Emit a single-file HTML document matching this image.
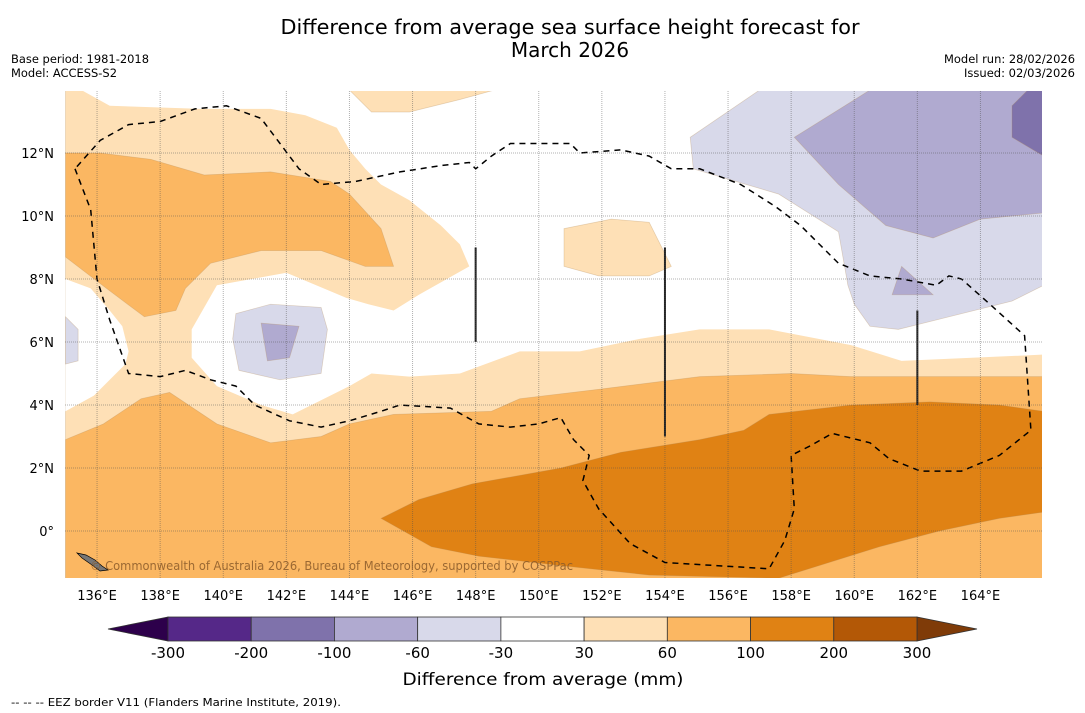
<!DOCTYPE html>
<html><head><meta charset="utf-8"><style>
body{margin:0;background:#fff;}
svg{display:block;font-family:"DejaVu Sans","Liberation Sans",sans-serif;}
</style></head><body>
<svg id="c" width="1085" height="713" viewBox="0 0 1085 713" xmlns="http://www.w3.org/2000/svg">
<text x="570" y="34" font-size="20" text-anchor="middle" textLength="579" lengthAdjust="spacingAndGlyphs">Difference from average sea surface height forecast for</text>
<text x="570" y="57" font-size="20" text-anchor="middle">March 2026</text>
<text x="11" y="63" font-size="11.5" textLength="138" lengthAdjust="spacingAndGlyphs">Base period: 1981-2018</text>
<text x="11" y="77" font-size="11.5" textLength="106" lengthAdjust="spacingAndGlyphs">Model: ACCESS-S2</text>
<text x="1075" y="63" font-size="11.5" text-anchor="end" textLength="131" lengthAdjust="spacingAndGlyphs">Model run: 28/02/2026</text>
<text x="1075" y="77" font-size="11.5" text-anchor="end" textLength="111" lengthAdjust="spacingAndGlyphs">Issued: 02/03/2026</text>
<defs><clipPath id="mapclip"><rect x="65" y="91" width="977" height="487"/></clipPath></defs>
<g id="map" clip-path="url(#mapclip)"></g>
<g id="grid"></g>
<g id="axes"></g>
<text x="90" y="570" font-size="12" fill="#8a5a2a" fill-opacity="0.85" textLength="483" lengthAdjust="spacingAndGlyphs">© Commonwealth of Australia 2026, Bureau of Meteorology, supported by COSPPac</text>
<g id="cbar"></g>
<text x="543" y="685" font-size="17" text-anchor="middle" textLength="281" lengthAdjust="spacingAndGlyphs">Difference from average (mm)</text>
<text x="11" y="706" font-size="11" textLength="330" lengthAdjust="spacingAndGlyphs">--  --  -- EEZ border V11 (Flanders Marine Institute, 2019).</text>
</svg>
<script>
const NS="http://www.w3.org/2000/svg";
// colour levels
const levels=[-300,-200,-100,-60,-30,30,60,100,200,300];
const levelColors=["#552888","#7f72ab","#b0aad0","#d8d9ea","#ffffff","#fee0b6","#fbb762","#e08214","#b35806"];
const extLow="#2d004b", extHigh="#7f3b08";
// map axis ticks
const lonTicks=[136,138,140,142,144,146,148,150,152,154,156,158,160,162,164];
const latTicks=[0,2,4,6,8,10,12];
// contour regions (lon, lat)
const baseLightOrange=[[135,14],[166,14],[166,-1.5],[135,-1.5]];
const whiteMain=[[135.5,14],[166,14],[166,5.6],[161.5,5.4],[159.9,5.9],[157.3,6.4],[155.1,6.4],[153.2,6.1],[151.3,5.7],[149.4,5.7],[147.5,5.0],[145.9,4.9],[144.7,5.0],[144.0,4.6],[142.2,3.7],[141.2,4.0],[139.8,4.6],[139.0,5.5],[139.0,6.4],[139.8,7.8],[140.9,8.0],[142.0,8.2],[143.9,7.4],[144.6,7.2],[145.4,7.0],[146.2,7.5],[147.8,8.4],[147.5,9.1],[146.9,9.7],[145.9,10.5],[145.0,11.0],[144.5,11.5],[144.0,12.1],[143.6,12.8],[142.6,13.2],[141.5,13.4],[139.3,13.4],[136.4,13.5]];
const whiteLeft=[[135,8.0],[135.8,7.7],[136.4,7.0],[136.8,6.5],[137.0,5.7],[136.9,5.3],[136.6,5.0],[135.9,4.3],[135,3.8]];
const topStrip=[[144.0,14],[148.6,14],[147.5,13.7],[145.9,13.3],[144.7,13.3]];
const islandLO=[[150.8,9.6],[152.3,9.9],[153.5,9.8],[154.2,8.4],[153.5,8.1],[151.9,8.1],[150.8,8.4]];
const orangeTL=[[135,12.0],[136.1,12.0],[137.7,11.8],[139.4,11.3],[141.5,11.4],[143.4,11.1],[144.0,10.7],[145.0,9.6],[145.4,8.4],[144.5,8.4],[143.1,8.9],[141.2,8.9],[139.6,8.5],[138.8,7.7],[138.5,7.0],[137.5,6.8],[136.3,7.7],[135,8.7]];
const orangeBottom=[[135,2.9],[136.2,3.4],[137.4,4.2],[138.3,4.4],[139.8,3.4],[141.5,2.8],[143.1,3.0],[144.0,3.4],[145.4,3.7],[148.5,3.8],[149.4,4.2],[151.9,4.5],[155.1,4.9],[158.0,5.0],[159.9,4.9],[163.0,4.9],[166,4.9],[166,-1.5],[135,-1.5]];
const darkOrange=[[145.0,0.4],[146.2,1.0],[147.9,1.5],[150.7,2.0],[152.6,2.5],[155.1,2.9],[156.5,3.2],[157.3,3.7],[159.9,4.0],[162.4,4.1],[164.6,4.0],[166,3.8],[166,0.6],[164.6,0.4],[162.7,0.0],[160.8,-0.5],[157.6,-1.5],[153.5,-1.4],[150.7,-1.1],[148.1,-0.8],[146.6,-0.5]];
const lightPurpleRight=[[154.8,12.5],[157.0,14],[166,14],[166,7.8],[165.0,7.3],[163.0,6.8],[161.4,6.4],[160.5,6.5],[160.0,7.2],[159.8,7.8],[159.5,9.5],[157.6,10.7],[154.9,11.5]];
const lightPurpleLeft=[[135,6.8],[135.4,6.4],[135.4,5.4],[135,5.3]];
const lightPurpleCenter=[[140.4,6.9],[141.5,7.2],[143.1,7.1],[143.3,6.4],[143.1,5.0],[141.8,4.8],[140.5,5.1],[140.3,6.1]];
const midPurpleCenter=[[141.2,6.6],[142.4,6.5],[142.1,5.5],[141.4,5.4]];
const midPurpleRight=[[158.1,12.5],[159.7,13.5],[160.5,14],[166,14],[166,10.1],[164.0,9.9],[162.5,9.3],[161.0,9.7],[159.5,11.0]];
const midPurpleSmall=[[161.5,8.4],[162.5,7.5],[161.2,7.5]];
const darkPurple=[[165.0,13.5],[165.5,14],[166,14],[166,11.9],[165.0,12.5]];
const eezLine=[[135.3,11.5],[135.8,10.2],[136.0,8.0],[136.4,6.7],[137.0,5.0],[138.0,4.9],[138.8,5.1],[139.6,4.8],[140.4,4.6],[141.0,4.0],[142.1,3.5],[143.1,3.3],[144.0,3.5],[145.0,3.8],[145.6,4.0],[147.2,3.9],[148.1,3.4],[149.1,3.3],[150.0,3.4],[150.7,3.6],[151.1,2.9],[151.6,2.4],[151.4,1.6],[151.9,0.7],[152.9,-0.4],[154.0,-1.0],[157.3,-1.2],[157.8,-0.3],[158.1,0.7],[158.0,2.4],[158.6,2.7],[159.3,3.1],[160.5,2.8],[161.1,2.3],[162.1,1.9],[163.4,1.9],[164.6,2.4],[165.6,3.2],[165.4,6.2],[164.3,7.2],[163.4,8.0],[163.0,8.1],[162.6,7.8],[161.5,8.0],[160.5,8.1],[159.5,8.5],[158.9,9.1],[158.3,9.7],[157.5,10.3],[156.4,11.0],[155.1,11.5],[154.2,11.5],[153.5,11.9],[152.6,12.1],[151.3,12.0],[151.0,12.3],[150.0,12.3],[149.1,12.3],[148.5,11.9],[148.0,11.5],[147.8,11.7],[146.9,11.6],[145.6,11.4],[144.2,11.1],[143.1,11.0],[142.4,11.5],[141.8,12.3],[141.2,13.1],[140.1,13.5],[139.1,13.4],[138.0,13.0],[137.0,12.9],[136.1,12.4],[135.3,11.5]];
const boundaryLines=[[[148,9],[148,6]],[[154,9],[154,3]],[[162,7],[162,4]]];

function X(lon){return 65.5+(lon-135)*31.55;}
function Y(lat){return 531-lat*31.5;}
function pts(a){return a.map(p=>X(p[0]).toFixed(1)+","+Y(p[1]).toFixed(1)).join(" ");}
const map=document.getElementById("map");
const layers=[
 [baseLightOrange,"#fee0b6","base-light-orange"],
 [whiteMain,"#ffffff","near-average-region"],
 [whiteLeft,"#ffffff","near-average-west"],
 [topStrip,"#fee0b6","light-orange-north"],
 [islandLO,"#fee0b6","light-orange-patch"],
 [orangeTL,"#fbb762","orange-northwest"],
 [orangeBottom,"#fbb762","orange-south"],
 [darkOrange,"#e08214","dark-orange-south"],
 [lightPurpleRight,"#d8d9ea","light-purple-east"],
 [lightPurpleLeft,"#d8d9ea","light-purple-west"],
 [lightPurpleCenter,"#d8d9ea","light-purple-center"],
 [midPurpleCenter,"#b0aad0","mid-purple-center"],
 [midPurpleRight,"#b0aad0","mid-purple-east"],
 [midPurpleSmall,"#b0aad0","mid-purple-patch"],
 [darkPurple,"#7f72ab","dark-purple-northeast"]
];
for(const [poly,col,name] of layers){
 const p=document.createElementNS(NS,"polygon");
 p.setAttribute("points",pts(poly));p.setAttribute("fill",col);
 p.setAttribute("stroke",col==="#ffffff"?"none":"rgba(180,140,90,0.35)");p.setAttribute("stroke-width","0.7");
 
 
 map.appendChild(p);
}
for(const [i,l] of boundaryLines.entries()){
 const ln=document.createElementNS(NS,"line");
 ln.setAttribute("x1",X(l[0][0]));ln.setAttribute("y1",Y(l[0][1]));ln.setAttribute("x2",X(l[1][0]));ln.setAttribute("y2",Y(l[1][1]));
 ln.setAttribute("stroke","#222");ln.setAttribute("stroke-width","2");
 
 
 map.appendChild(ln);
}
const eez=document.createElementNS(NS,"polyline");
eez.setAttribute("points",pts(eezLine));eez.setAttribute("fill","none");eez.setAttribute("stroke","#000");eez.setAttribute("stroke-width","1.5");eez.setAttribute("stroke-dasharray","6,5");


map.appendChild(eez);
const isl=document.createElementNS(NS,"path");
isl.setAttribute("d","M77,553 L86,555 L95,560 L102,566 L108,570 L100,571 L92,565 L82,558 Z");isl.setAttribute("fill","#777");isl.setAttribute("stroke","#000");isl.setAttribute("stroke-width","0.7");


map.appendChild(isl);

const grid=document.getElementById("grid"), axes=document.getElementById("axes");
for(const lon of lonTicks){
 const l=document.createElementNS(NS,"line");
 l.setAttribute("x1",X(lon));l.setAttribute("x2",X(lon));l.setAttribute("y1",91);l.setAttribute("y2",578);
 l.setAttribute("stroke","rgba(80,80,80,0.45)");l.setAttribute("stroke-width","1");l.setAttribute("stroke-dasharray","1,1");
 
 
 grid.appendChild(l);
 const t=document.createElementNS(NS,"text");
 t.setAttribute("x",X(lon));t.setAttribute("y",600);t.setAttribute("font-size","13");t.setAttribute("text-anchor","middle");
 t.textContent=lon+"°E";
 
 
 axes.appendChild(t);
}
for(const lat of latTicks){
 const l=document.createElementNS(NS,"line");
 l.setAttribute("x1",65);l.setAttribute("x2",1042);l.setAttribute("y1",Y(lat));l.setAttribute("y2",Y(lat));
 l.setAttribute("stroke","rgba(80,80,80,0.45)");l.setAttribute("stroke-width","1");l.setAttribute("stroke-dasharray","1,1");
 
 
 grid.appendChild(l);
 const t=document.createElementNS(NS,"text");
 t.setAttribute("x",54);t.setAttribute("y",Y(lat)+5);t.setAttribute("font-size","13");t.setAttribute("text-anchor","end");
 t.textContent=lat===0?"0°":lat+"°N";
 
 
 axes.appendChild(t);
}

const cb=document.getElementById("cbar");
const cx0=168,cx1=917,cy=617,ch=24,bw=(cx1-cx0)/levelColors.length;
function addPoly(p,f,name){const e=document.createElementNS(NS,"polygon");e.setAttribute("points",p);e.setAttribute("fill",f);e.setAttribute("stroke","#333");e.setAttribute("stroke-width","0.8");
 
 
 cb.appendChild(e);}
addPoly(`${cx0},${cy} 108,${cy+ch/2} ${cx0},${cy+ch}`,extLow,"colorbar-extend-low");
addPoly(`${cx1},${cy} 977,${cy+ch/2} ${cx1},${cy+ch}`,extHigh,"colorbar-extend-high");
levelColors.forEach((c,i)=>{
 const r=document.createElementNS(NS,"rect");
 r.setAttribute("x",cx0+i*bw);r.setAttribute("y",cy);r.setAttribute("width",bw);r.setAttribute("height",ch);r.setAttribute("fill",c);r.setAttribute("stroke","#333");r.setAttribute("stroke-width","0.8");
 
 
 cb.appendChild(r);
});
levels.forEach((v,i)=>{
 const t=document.createElementNS(NS,"text");
 t.setAttribute("x",cx0+i*bw);t.setAttribute("y",658);t.setAttribute("font-size","15");t.setAttribute("text-anchor","middle");
 t.textContent=v;
 
 
 cb.appendChild(t);
});
</script>
</body></html>
